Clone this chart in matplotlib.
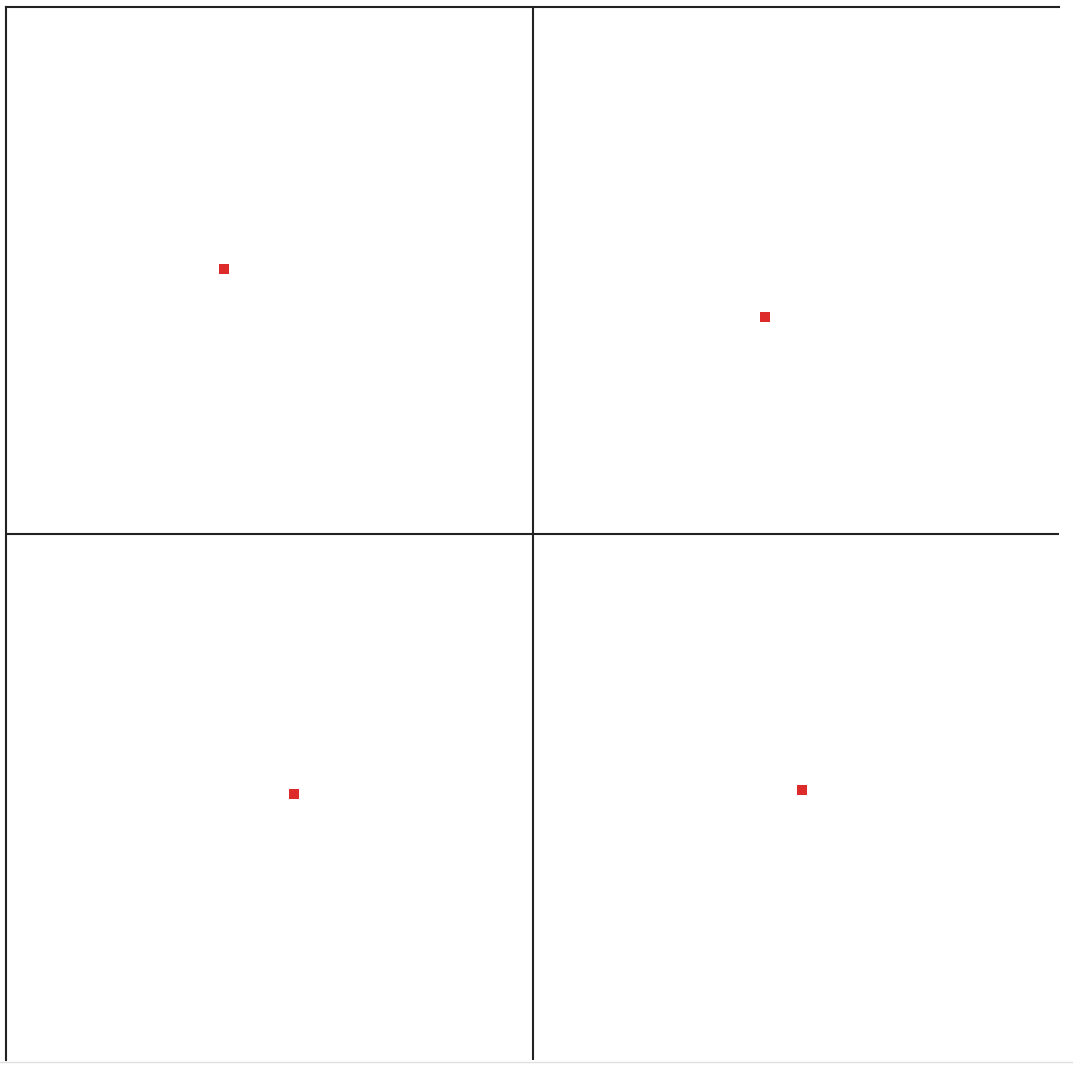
import matplotlib.pyplot as plt

# point positions, quadrant plane centred on (0, 0)
px = [-0.586, 0.442, -0.453, 0.512]
py = [0.502, 0.411, -0.495, -0.487]

fig = plt.figure(figsize=(10.73, 10.67), dpi=100)
ax = fig.add_axes([6 / 1073, 7 / 1067, 1053 / 1073, 1053 / 1067])

ax.set_xlim(-1, 1)
ax.set_ylim(-1, 1)

ax.axhline(0, color="#222222", lw=1.5)
ax.axvline(0, color="#222222", lw=1.5)

ax.plot(px, py, "s", color="#dd2b2b", markersize=7, markeredgewidth=0)

for side in ["right", "bottom"]:
    ax.spines[side].set_visible(False)
for side in ["left", "top"]:
    ax.spines[side].set_color("#222222")
    ax.spines[side].set_linewidth(1.5)

ax.set_xticks([])
ax.set_yticks([])

# faint border under the panel
fig.add_artist(plt.Line2D([0, 1], [5.5 / 1067, 5.5 / 1067], color="#e0e0e0", lw=1))

fig.savefig("out.png", dpi=100)
